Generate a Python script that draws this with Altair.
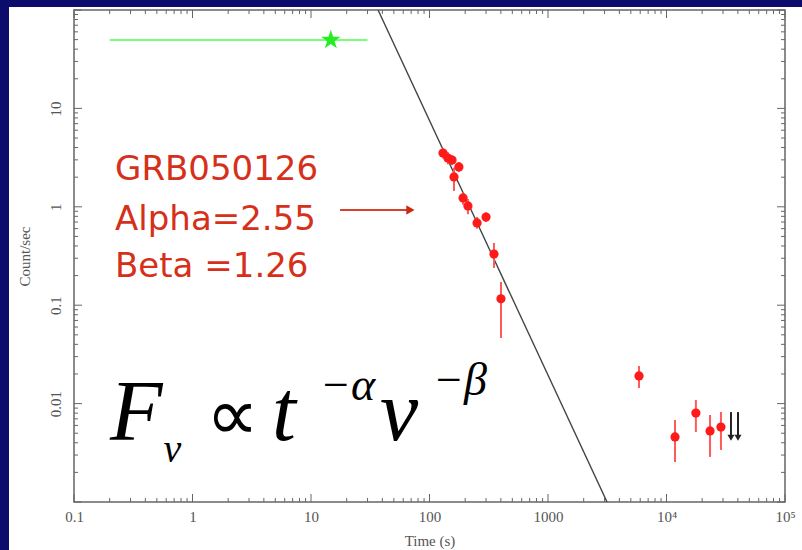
import altair as alt
import pandas as pd
import numpy as np

# ---------------- data ----------------
t_pts = [130, 143, 155, 177, 161, 192, 211, 252, 300, 350, 401,
         5860, 11800, 17700, 23300, 28800]
c_pts = [3.52, 3.13, 2.99, 2.54, 2.01, 1.23, 1.02, 0.685, 0.787, 0.331, 0.116,
         0.0191, 0.00458, 0.00802, 0.00527, 0.00578]
c_lo = [3.10, 2.70, 2.65, 2.25, 1.45, 1.05, 0.84, 0.60, 0.70, 0.239, 0.0464,
        0.0144, 0.00255, 0.00514, 0.00287, 0.00338]
c_hi = [3.95, 3.60, 3.35, 2.85, 2.50, 1.40, 1.20, 0.79, 0.88, 0.429, 0.172,
        0.0241, 0.00681, 0.0109, 0.00766, 0.00822]

# upper limits (arrows)
ul_t = [35000, 40100]
ul_top = [0.0082, 0.0082]
ul_bot = [0.0045, 0.0045]

# green point (BAT)
star_t = [14.7]
star_c = [49.6]
star_tlo = [0.2]
star_thi = [30]

# power-law fit line endpoints
fit_t = [36.8, 3150]
fit_c = [100, 0.001]

# axis ticks
x_major = [0.1, 1, 10, 100, 1000, 1e4, 1e5]
y_major = [0.001, 0.01, 0.1, 1, 10, 100]
x_minor = [m * 10.0 ** k for k in range(-1, 5) for m in range(2, 10)]
y_minor = [m * 10.0 ** k for k in range(-3, 2) for m in range(2, 10)]

# annotation text
red_lines = ["GRB050126", "Alpha=2.55", "Beta =1.26"]
red_t = [0.222, 0.222, 0.222]
red_c = [1.87, 0.581, 0.194]

W, H = 711, 492
SERIF = "Liberation Serif"
GREY = "#555555"
STAR = ("M0,-1L0.2245,-0.309L0.951,-0.309L0.363,0.118L0.588,0.809L0,0.382"
        "L-0.588,0.809L-0.363,0.118L-0.951,-0.309L-0.2245,-0.309Z")

xs = alt.Scale(type="log", domain=[0.1, 1e5], nice=False)
ys = alt.Scale(type="log", domain=[0.001, 100], nice=False)

xaxis = alt.Axis(values=x_major, ticks=False, domain=False, grid=False,
                 labelExpr="datum.value >= 100000 ? '10\u2075' : datum.value >= 10000 ? '10\u2074' : format(datum.value, '~g')",
                 labelPadding=7, labelFont=SERIF, labelFontSize=15, labelColor=GREY,
                 labelFlush=False, title="Time (s)", titleFont=SERIF, titleFontSize=15,
                 titleFontWeight="normal", titleColor=GREY, titleX=W / 2, titleY=38,
                 titleAlign="center", titleBaseline="middle", zindex=1)
yaxis = alt.Axis(values=[0.01, 0.1, 1, 10], ticks=False, domain=False, grid=False,
                 labelExpr="format(datum.value, '~g')", labelAngle=270,
                 labelAlign="center", labelBaseline="middle", labelPadding=19,
                 labelFont=SERIF, labelFontSize=15, labelColor=GREY, labelFlush=False,
                 title="Count/sec", titleFont=SERIF, titleFontSize=15,
                 titleFontWeight="normal", titleColor=GREY, titleAngle=270,
                 titleX=-50, titleY=H / 2, titleAlign="center", titleBaseline="middle",
                 zindex=1)


def X(field="t"):
    return alt.X(f"{field}:Q", scale=xs, axis=xaxis)


def Y(field="c"):
    return alt.Y(f"{field}:Q", scale=ys, axis=yaxis)


one = pd.DataFrame({"a": [0]})

# white panel behind everything
panel = alt.Chart(one).mark_rect(color="white").encode(
    x=alt.value(-65), x2=alt.value(728), y=alt.value(-3), y2=alt.value(540))

pts = pd.DataFrame({"t": t_pts, "c": c_pts, "lo": c_lo, "hi": c_hi})
err = alt.Chart(pts).mark_rule(color="#ff5a5a", strokeWidth=2, clip=True).encode(
    x=X(), y=Y("lo"), y2="hi:Q")
dots = alt.Chart(pts).mark_point(filled=True, shape="circle", size=85, color="#ff1a1a",
                                 opacity=1, clip=True).encode(x=X(), y=Y())

fit = alt.Chart(pd.DataFrame({"t": fit_t, "c": fit_c})).mark_line(
    color="#444444", strokeWidth=1.4, clip=True).encode(x=X(), y=Y())

star_df = pd.DataFrame({"t": star_t, "c": star_c, "lo": star_tlo, "hi": star_thi})
star_err = alt.Chart(star_df).mark_rule(color="#77ff77", strokeWidth=2).encode(
    x=X("lo"), x2="hi:Q", y=Y())
star = alt.Chart(star_df).mark_point(shape=STAR, filled=True, size=420,
                                     color="#22ee22", opacity=1).encode(x=X(), y=Y())

ul_df = pd.DataFrame({"t": ul_t, "top": ul_top, "bot": ul_bot})
ul_rule = alt.Chart(ul_df).mark_rule(color="#222222", strokeWidth=2).encode(
    x=X(), y=Y("top"), y2="bot:Q")
ul_head = alt.Chart(ul_df).mark_point(shape="triangle-down", filled=True, size=50,
                                      color="#222222", opacity=1).encode(x=X(), y=Y("bot"))

# red arrow
arr_df = pd.DataFrame({"t0": [17.6], "t1": [69], "c": [0.927]})
arr_line = alt.Chart(arr_df).mark_rule(color="#d8402c", strokeWidth=2).encode(
    x=X("t0"), x2="t1:Q", y=Y())
arr_head = alt.Chart(arr_df).mark_point(shape="triangle-right", filled=True, size=90,
                                        color="#cc2a10", opacity=1).encode(x=X("t1"), y=Y())

red_df = pd.DataFrame({"t": red_t, "c": red_c, "s": red_lines})
red_txt = alt.Chart(red_df).mark_text(align="left", baseline="alphabetic",
                                      font="DejaVu Sans", fontSize=34,
                                      color="#d6301a").encode(x=X(), y=Y(), text="s:N")

# formula pieces: text, t, c, size, style
formula = [
    ("F", 0.201, 0.00427, 86, "italic"),
    ("\u03bd", 0.570, 0.00255, 40, "italic"),
    ("\u221d", 1.30, 0.00427, 74, "normal"),
    ("t", 4.69, 0.00427, 86, "italic"),
    ("\u2212\u03b1", 11.9, 0.0109, 46, "italic"),
    ("\u03bd", 38.2, 0.00427, 86, "italic"),
    ("\u2212\u03b2", 107, 0.0122, 46, "italic"),
]
f_layers = []
for s, tt, cc, fs, st in formula:
    f_layers.append(
        alt.Chart(pd.DataFrame({"t": [tt], "c": [cc], "s": [s]})).mark_text(
            align="left", baseline="alphabetic", font=SERIF, fontSize=fs,
            fontStyle=st, color="black").encode(x=X(), y=Y(), text="s:N"))

# inward ticks on all four sides
def xticks(vals, L):
    d = pd.DataFrame({"t": vals})
    bot = alt.Chart(d).mark_rule(color="#666666", strokeWidth=1).encode(
        x=X(), y=alt.value(H), y2=alt.value(H - L))
    top = alt.Chart(d).mark_rule(color="#666666", strokeWidth=1).encode(
        x=X(), y=alt.value(0), y2=alt.value(L))
    return [bot, top]


def yticks(vals, L):
    d = pd.DataFrame({"c": vals})
    lft = alt.Chart(d).mark_rule(color="#666666", strokeWidth=1).encode(
        y=Y(), x=alt.value(0), x2=alt.value(L))
    rgt = alt.Chart(d).mark_rule(color="#666666", strokeWidth=1).encode(
        y=Y(), x=alt.value(W), x2=alt.value(W - L))
    return [lft, rgt]


frame = alt.Chart(one).mark_rect(filled=False, stroke="#666666", strokeWidth=1.5).encode(
    x=alt.value(0), x2=alt.value(W), y=alt.value(0), y2=alt.value(H))

layers = ([panel] + xticks(x_major, 8) + xticks(x_minor, 4) + yticks(y_major, 8)
          + yticks(y_minor, 4) + [frame, fit, star_err, star, err, dots, ul_rule, ul_head,
                                  arr_line, arr_head, red_txt] + f_layers)

chart = alt.layer(*layers).properties(
    width=W, height=H, background="#0c0c6c",
    autosize=alt.AutoSizeParams(type="none"),
    padding={"left": 74, "top": 10, "right": 17, "bottom": 48},
).configure_view(stroke=None)

chart.save("out.html", embed_options={"renderer": "svg", "actions": False})
